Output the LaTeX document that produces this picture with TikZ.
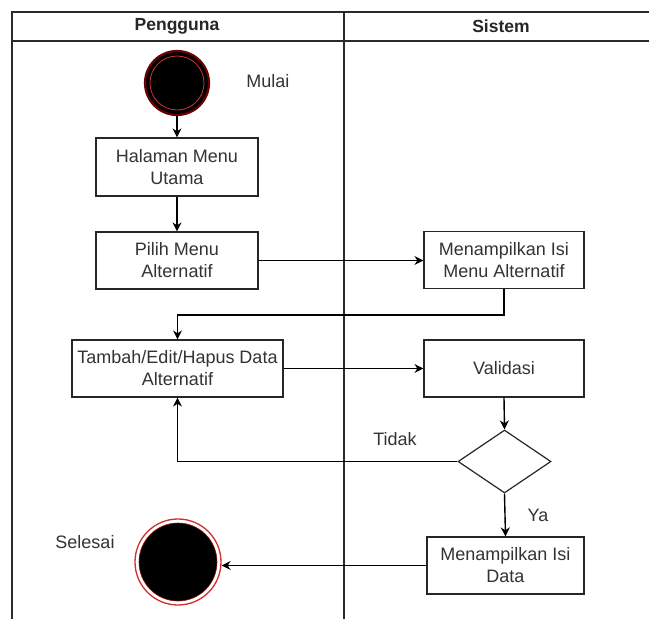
\documentclass[tikz,border=0pt]{standalone}
\usepackage{fontspec}
\setmainfont{Liberation Sans}
\usetikzlibrary{shapes.geometric,arrows.meta}
\definecolor{txt}{HTML}{333333}
\definecolor{lanecol}{HTML}{2A2A2A}
\definecolor{ringdark}{HTML}{6A0000}
\definecolor{ringred}{HTML}{D03030}
\begin{document}
\begin{tikzpicture}[x=1pt,y=-1pt,
  lane/.style={draw=lanecol,line width=1.4pt},
  actbox/.style={draw=black!85,line width=1.2pt,fill=white,rectangle,inner sep=2pt,align=center,
    text=txt,font=\fontsize{18}{22}\selectfont},
  label/.style={text=txt,font=\fontsize{18}{22}\selectfont},
  head/.style={font=\fontsize{17.5}{20}\selectfont\bfseries,text=black!85},
  decision/.style={draw=black!85,line width=1.2pt,diamond,inner sep=0pt,minimum width=93pt,minimum height=63pt},
  flow/.style={draw=black,line width=1.4pt,-{Stealth[length=9pt,width=9pt]}}
]
\useasboundingbox (0,0) rectangle (649,619);
\fill[white] (0,0) rectangle (649,619);
% swimlanes
\draw[lane] (12,619) -- (12,12) -- (649,12);
\draw[lane] (12,41) -- (649,41);
\draw[lane] (344,12) -- (344,619);
\node[head] (hp) at (177,26.5) {Pengguna};
\node[head] (hs) at (501,26.5) {Sistem};
% start
\node[circle,fill=black,draw=ringdark,line width=2.2pt,minimum size=64pt,inner sep=0pt] (start) at (177,83) {};
\draw[ringred,line width=0.8pt] (start.center) circle (27pt);
\node[label] (mulai) at (268,81) {Mulai};
% boxes
\node[actbox,minimum width=162pt,minimum height=58pt] (b1) at (177,167) {Halaman Menu\\Utama};
\node[actbox,minimum width=162pt,minimum height=57pt] (b2) at (177,260.5) {Pilih Menu\\Alternatif};
\node[actbox,minimum width=160pt,minimum height=57pt] (b3) at (504,260) {Menampilkan Isi\\Menu Alternatif};
\node[actbox,minimum width=211pt,minimum height=57pt] (b4) at (177.5,368.5) {Tambah/Edit/Hapus Data\\Alternatif};
\node[actbox,minimum width=160pt,minimum height=57pt] (b5) at (504,368.5) {Validasi};
\node[decision] (d) at (504.5,461.5) {};
\node[actbox,minimum width=157pt,minimum height=57pt] (b6) at (505.5,565.5) {Menampilkan Isi\\Data};
% end
\node[circle,fill=white,draw=ringred,line width=1.3pt,minimum size=86pt,inner sep=0pt] (end) at (178,562) {};
\fill[black] (end.center) circle (39pt);
\draw[ringdark!60!ringred,line width=0.6pt] (end.center) circle (39pt);
\node[label] (selesai) at (85,542) {Selesai};
% flows
\draw[flow] (start) -- (b1);
\draw[flow] (b1) -- (b2);
\draw[flow] (b2.east) -- (b3.west |- b2.east);
\draw[flow] (b3.south) -- ++(0,26) -| (b4.north);
\draw[flow] (b4.east) -- (b5.west);
\draw[flow] (b5.south) -- (d.north);
\draw[flow] (d.west) -| (b4.south);
\node[label] (tidak) at (395,439) {Tidak};
\draw[flow] (d.south) -- (b6.north);
\node[label] (ya) at (538,515) {Ya};
\draw[flow] (b6.west) -- (end.east |- b6.west);
\end{tikzpicture}
\end{document}
